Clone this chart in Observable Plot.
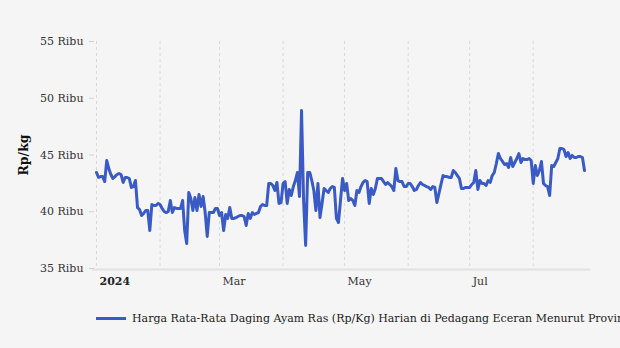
<!DOCTYPE html>
<html>
<head>
<meta charset="utf-8">
<script src="https://cdn.jsdelivr.net/npm/d3@7"></script>
<script src="https://cdn.jsdelivr.net/npm/@observablehq/plot@0.6"></script>
<style>
  html, body { margin: 0; padding: 0; background: #f5f5f5; }
  #chart { width: 620px; height: 348px; overflow: hidden; position: relative; font-family: "DejaVu Serif", serif; }
  .legend { position: absolute; left: 96px; top: 312px; white-space: nowrap; font-size: 11px; color: #222; display: flex; align-items: center; }
  .legend .sw { width: 30px; height: 3px; background: #3a5bc6; margin-right: 6px; }
</style>
</head>
<body>
<div id="chart"></div>
<script>
const startDate = "2024-01-01";
const seriesName = "Harga Rata-Rata Daging Ayam Ras (Rp/Kg) Harian di Pedagang Eceran Menurut Provinsi";
const yTicks = [35000, 40000, 45000, 50000, 55000];
const xLabelTicks = ["2024-03-01", "2024-05-01", "2024-07-01"];
const prices = [
  43460, 43020, 43100, 43100, 42660, 44510, 43810, 43280, 42930, 43100,
  43280, 43370, 43280, 42580, 43020, 43020, 42930, 42140, 42220, 42750,
  40370, 40200, 39670, 39850, 40110, 40110, 38350, 40640, 40550, 40550,
  40730, 40640, 40290, 40020, 39930, 40020, 40990, 39930, 40370, 40290,
  40290, 40290, 40990, 38350, 37200, 41700, 41170, 40110, 41260, 40110,
  41520, 40460, 41340, 39930, 37820, 39930, 39930, 39930, 40290, 40290,
  39670, 39930, 38350, 39760, 39410, 40370, 39410, 39410, 39490, 39580,
  39670, 39670, 39580, 38790, 39850, 39410, 39930, 39760, 39850, 39930,
  40460, 40640, 40550, 40550, 42490, 42490, 42310, 41870, 42580, 40730,
  40810, 42490, 42660, 40730, 41960, 41430, 42220, 42750, 43460, 41340,
  48920, 40990, 37030, 43460, 43460, 42750, 41870, 40110, 42490, 39490,
  40730, 42050, 41870, 41700, 42050, 42220, 42140, 39410, 39050, 40990,
  42930, 41870, 42490, 40990, 41170, 40990, 40550, 41870, 41700, 42220,
  42580, 42750, 42660, 40730, 42050, 41520, 42050, 42930, 42930, 42930,
  42660, 42400, 42580, 42400, 42220, 41870, 43810, 42750, 42660, 42660,
  42220, 42220, 42490, 42490, 42220, 41870, 41960, 42310, 42580, 42400,
  42310, 42220, 42140, 41960, 42220, 42140, 40810, 41610, 42400, 43190,
  43100, 43100, 43020, 43020, 43630, 43460, 43190, 42930, 42050, 42050,
  42140, 42140, 42140, 42400, 42580, 43630, 41960, 42750, 42490, 42490,
  42310, 42750, 42580, 43190, 43460, 44250, 45130, 44690, 44430, 44160,
  44250, 43900, 44780, 43990, 44340, 44690, 45130, 44340, 44690, 44600,
  44600, 44690, 44510, 42490, 44070, 43190, 43630, 44430, 42490, 42310,
  42220, 41430, 44070, 43990, 44340, 44690, 45570, 45570, 45480, 44870,
  45220, 44690, 44960, 44780, 44780, 44870, 44870, 44780, 43630
];

const t0 = new Date(startDate + "T00:00:00Z");
const data = prices.map((v, i) => ({ date: d3.utcDay.offset(t0, i), value: v }));
const lastDate = data[data.length - 1].date;

const chart = Plot.plot({
  width: 620,
  height: 290,
  marginLeft: 96,
  marginRight: 36,
  marginTop: 41,
  marginBottom: 22,
  style: { fontFamily: "DejaVu Serif, serif", fontSize: "11px", background: "#f5f5f5", color: "#333" },
  x: { type: "utc", domain: [t0, lastDate] },
  y: { domain: [35000, 55000] },
  marks: [
    Plot.gridX(d3.utcMonth.range(t0, d3.utcDay.offset(lastDate, 1)), { stroke: "#d8d8d8", strokeOpacity: 1, strokeDasharray: "3,3" }),
    Plot.ruleY([35000], { stroke: "#e2e2e2", strokeWidth: 2, insetLeft: -4, insetRight: -6, dy: 1 }),
    Plot.axisY({ ticks: yTicks, tickFormat: d => (d / 1000) + " Ribu", tickSize: 5, tickPadding: 6, dx: -2, stroke: "#d0d0d0", fill: "#333", label: null }),
    Plot.axisX({ ticks: [t0], tickFormat: () => "2024", tickSize: 0, tickPadding: 9, textAnchor: "start", dx: 3, fontWeight: "bold", fill: "#222", label: null }),
    Plot.axisX({ ticks: xLabelTicks.map(s => new Date(s + "T00:00:00Z")), tickFormat: d3.utcFormat("%b"), tickSize: 0, tickPadding: 9, textAnchor: "start", dx: 3, fill: "#333", label: null }),
    Plot.text(["Rp/kg"], { frameAnchor: "left", textAnchor: "middle", dx: -73, rotate: -90, fontWeight: "bold", fontSize: 12.5, fill: "#111" }),
    Plot.lineY(data, { x: "date", y: "value", stroke: "#3a5bc6", strokeWidth: 3, curve: "linear" })
  ]
});

const root = document.getElementById("chart");
root.appendChild(chart);
const legend = document.createElement("div");
legend.className = "legend";
legend.innerHTML = '<span class="sw"></span><span></span>';
legend.lastChild.textContent = seriesName;
root.appendChild(legend);
</script>
</body>
</html>
